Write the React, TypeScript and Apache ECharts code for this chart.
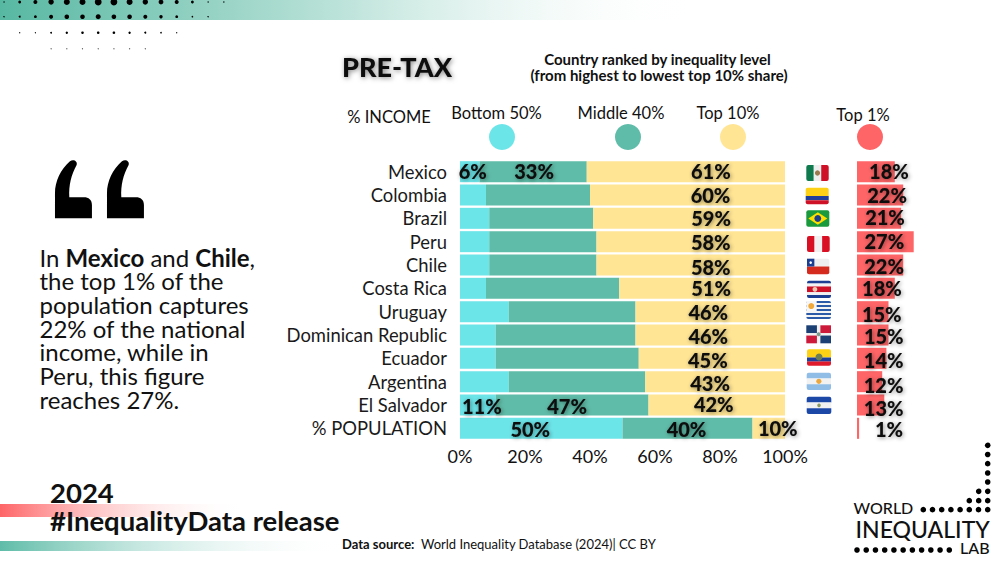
import React, { useEffect, useRef } from "react";
import * as echarts from "echarts";

const categories = ["Mexico", "Colombia", "Brazil", "Peru", "Chile", "Costa Rica", "Uruguay", "Dominican Republic", "Ecuador", "Argentina", "El Salvador", "% POPULATION"];
const bottom50 = [6, 8, 9, 9, 9, 8, 15, 11, 11, 15, 11, 50];
const middle40 = [33, 32, 32, 33, 33, 41, 39, 43, 44, 42, 47, 40];
const top10 = [61, 60, 59, 58, 58, 51, 46, 46, 45, 43, 42, 10];
const top1 = [18, 22, 21, 27, 22, 18, 15, 15, 14, 12, 13, 1];
const xTicks = [0, 20, 40, 60, 80, 100];

// label nudges (px), separate from the values
const top10Nudge = [[25, -1], [23, 0], [22, 0], [20, 0], [20, 2], [9, 0], [-2, 0], [-2, 1], [-4, 2], [-5, 1], [-3, -1], [9, 0]];
const top1Nudge = [[13, -1], [7, 0], [6, -1], [-1, -1], [4, 1], [6, 0], [9, 2], [11, 1], [12, 2], [14, 3], [13, 3], [31, 1]];
const bottomNudge: Record<number, number[]> = { 0: [3, -1], 10: [4, 1], 11: [-11, 1] };
const middleNudge: Record<number, number[]> = { 0: [1, -1], 10: [-5, 1], 11: [-1, 1] };

const CYAN = "#6ce5e9";
const GREEN = "#5fbca8";
const YELLOW = "#ffe594";
const RED = "#fe6567";
const INK = "#111111";
const FONT = "Lato";

echarts.graphic.registerShape(
  "quoteMark",
  echarts.graphic.extendPath(
    "M75 205 L186 205 L186 165 C186 150 176 142 162 142 L118 142 C116 105 124 75 140 45 C144 34 130 26 120 34 C92 58 75 95 75 130 Z",
    {}
  )
);

type Flag = { x0: number; x1: number; y0: number; y1: number; dir: "h" | "v"; stripes: [string, number][]; extra?: any[] };

const flags: Flag[] = [
  { x0: 806.3, x1: 828.7, y0: 165, y1: 181, dir: "v", stripes: [["#0e7a4e", 1], ["#eeeeee", 1], ["#ce1126", 1]], extra: [{ k: "c", x: 0.5, y: 0.5, r: 2.6, c: "#9a7b4f" }] },
  { x0: 805.7, x1: 828.7, y0: 187.7, y1: 204.3, dir: "h", stripes: [["#fcd116", 2], ["#1f3f9b", 1], ["#ce1126", 1]] },
  { x0: 806.3, x1: 829.3, y0: 210.3, y1: 226.7, dir: "h", stripes: [["#1a9a3c", 1]], extra: [{ k: "d", c: "#fedf00" }, { k: "c", x: 0.5, y: 0.5, r: 3.4, c: "#1f3f8b" }] },
  { x0: 807, x1: 829.7, y0: 236, y1: 252, dir: "v", stripes: [["#d91023", 1], ["#f0f0f0", 1], ["#d91023", 1]] },
  { x0: 807, x1: 829.3, y0: 258.7, y1: 274.3, dir: "h", stripes: [["#eeeeee", 1], ["#d52b1e", 1]], extra: [{ k: "r", x: 0, y: 0, w: 0.33, h: 0.5, c: "#1c3f94" }, { k: "c", x: 0.165, y: 0.25, r: 1.3, c: "#ffffff" }] },
  { x0: 807, x1: 831, y0: 280.7, y1: 298, dir: "h", stripes: [["#1c3f94", 1], ["#f2f2f2", 1], ["#ce1126", 2], ["#f2f2f2", 1], ["#1c3f94", 1]], extra: [{ k: "c", x: 0.33, y: 0.5, r: 2.4, c: "#e9c9b0" }] },
  { x0: 806.3, x1: 831, y0: 301, y1: 319, dir: "h", stripes: [["#2a5aa8", 1], ["#f4f4f4", 1], ["#2a5aa8", 1], ["#f4f4f4", 1], ["#2a5aa8", 1], ["#f4f4f4", 1], ["#2a5aa8", 1], ["#f4f4f4", 1], ["#2a5aa8", 1]], extra: [{ k: "r", x: 0, y: 0, w: 0.42, h: 0.56, c: "#f6f6f6" }, { k: "c", x: 0.2, y: 0.28, r: 3, c: "#f0a93a" }] },
  { x0: 806.3, x1: 831, y0: 325.3, y1: 343.3, dir: "h", stripes: [["#f2f2f2", 1]], extra: [{ k: "r", x: 0, y: 0, w: 0.43, h: 0.43, c: "#1c3f74" }, { k: "r", x: 0.57, y: 0, w: 0.43, h: 0.43, c: "#ce1a3a" }, { k: "r", x: 0, y: 0.57, w: 0.43, h: 0.43, c: "#ce1a3a" }, { k: "r", x: 0.57, y: 0.57, w: 0.43, h: 0.43, c: "#1c3f74" }, { k: "c", x: 0.5, y: 0.5, r: 2, c: "#7a9a8a" }] },
  { x0: 807, x1: 831, y0: 349.3, y1: 365.7, dir: "h", stripes: [["#fcd116", 2], ["#1f3f9b", 1], ["#e01a2b", 1]], extra: [{ k: "c", x: 0.5, y: 0.47, r: 3.5, c: "#6f7d55" }] },
  { x0: 806.7, x1: 831, y0: 372.7, y1: 390, dir: "h", stripes: [["#8fbde6", 1], ["#f2f2f2", 1], ["#8fbde6", 1]], extra: [{ k: "c", x: 0.5, y: 0.5, r: 2.6, c: "#eaa83f" }] },
  { x0: 806.7, x1: 831.3, y0: 396.7, y1: 414, dir: "h", stripes: [["#1c49a8", 1], ["#f2f2f2", 1], ["#1c49a8", 1]], extra: [{ k: "c", x: 0.5, y: 0.5, r: 1.8, c: "#8a9a60" }] },
];

function flagElements(f: Flag): any[] {
  const W = f.x1 - f.x0;
  const H = f.y1 - f.y0;
  const total = f.stripes.reduce((a, s) => a + s[1], 0);
  const out: any[] = [];
  let pos = 0;
  f.stripes.forEach(([c, n], i) => {
    const frac = n / total;
    const isEnd = i === 0 || i === f.stripes.length - 1;
    const single = f.stripes.length === 1;
    const r = single ? 2 : f.dir === "h" ? (i === 0 ? [2, 2, 0, 0] : i === f.stripes.length - 1 ? [0, 0, 2, 2] : 0) : i === 0 ? [2, 0, 0, 2] : i === f.stripes.length - 1 ? [0, 2, 2, 0] : 0;
    out.push({
      type: "rect",
      shape: f.dir === "h"
        ? { x: f.x0, y: f.y0 + pos * H, width: W, height: frac * H, r: isEnd || single ? r : 0 }
        : { x: f.x0 + pos * W, y: f.y0, width: frac * W, height: H, r: isEnd || single ? r : 0 },
      style: { fill: c },
    });
    pos += frac;
  });
  (f.extra || []).forEach((e) => {
    if (e.k === "c") out.push({ type: "circle", shape: { cx: f.x0 + e.x * W, cy: f.y0 + e.y * H, r: e.r }, style: { fill: e.c } });
    if (e.k === "r") out.push({ type: "rect", shape: { x: f.x0 + e.x * W, y: f.y0 + e.y * H, width: e.w * W, height: e.h * H }, style: { fill: e.c } });
    if (e.k === "d") out.push({ type: "polygon", shape: { points: [[f.x0 + 2, f.y0 + H / 2], [f.x0 + W / 2, f.y0 + 2], [f.x1 - 2, f.y0 + H / 2], [f.x0 + W / 2, f.y1 - 2]] }, style: { fill: e.c } });
  });
  return out;
}

function txt(x: number, y: number, text: string, size: number, weight: any = 400, align = "left", extra: any = {}) {
  return {
    type: "text",
    x,
    y,
    style: { text, font: `${weight} ${size}px ${FONT}`, fontFamily: FONT, fontSize: size, fontWeight: weight, fill: INK, textAlign: align, textVerticalAlign: "middle", textBaseline: "middle", ...extra },
  };
}

function dot(cx: number, cy: number, r: number, fill = "#000000") {
  return { type: "circle", shape: { cx, cy, r }, style: { fill } };
}

const headerRows: { y: number; start: number; r: number[]; fill: string }[] = [
  { y: 2, start: 0, r: [0.7, 1.4, 2, 2.7, 3, 3, 3.4, 3.4, 3, 2.7, 2.4, 2, 1.4, 0.7, 0.7], fill: "#000" },
  { y: 16.7, start: 0, r: [0.7, 1, 1.4, 2, 2.3, 2.3, 2.5, 2.3, 2.3, 2, 1.7, 1.4, 0.8, 0.7], fill: "#000" },
  { y: 32.7, start: 1, r: [0.6, 0.6, 0.9, 1.2, 1.3, 1.3, 1.3, 1.2, 1, 0.8, 0.6], fill: "#000" },
  { y: 48.7, start: 3, r: [0.6, 0.6, 0.6, 0.6, 0.6, 0.6, 0.6], fill: "#555" },
];

const leftLines = [
  "In {b|Mexico} and {b|Chile},",
  "the top 1% of the",
  "population captures",
  "22% of the national",
  "income, while in",
  "Peru, this figure",
  "reaches 27%.",
];

function barLabel(show: boolean, nudge: number[] | undefined) {
  return {
    show,
    position: "inside",
    offset: nudge || [0, 0],
    formatter: "{c}%",
    fontFamily: FONT,
    fontWeight: 900,
    fontSize: 20,
    color: "#0a0a0a",
    textShadowColor: "rgba(0,0,0,0.45)",
    textShadowBlur: 4,
    textShadowOffsetX: 1,
    textShadowOffsetY: 1,
  };
}

function buildGraphic() {
  const els: any[] = [];
  const grad = (stops: [number, string][]) =>
    new echarts.graphic.LinearGradient(0, 0, 1, 0, stops.map(([offset, color]) => ({ offset, color })));

  els.push({ type: "rect", shape: { x: 0, y: 0, width: 700, height: 20 }, style: { fill: grad([[0, "#57b8a2"], [0.5, "#bfe4db"], [1, "rgba(255,255,255,0)"]]) } });
  headerRows.forEach((row) => row.r.forEach((r, i) => els.push(dot(4 + (row.start + i) * 15.7, row.y, r, row.fill))));

  els.push({ type: "rect", shape: { x: 0, y: 504, width: 245, height: 13 }, style: { fill: grad([[0, "#fe6567"], [1, "rgba(255,255,255,0)"]]) } });
  els.push({ type: "rect", shape: { x: 0, y: 541, width: 345, height: 10 }, style: { fill: grad([[0, "#5fbca8"], [1, "rgba(255,255,255,0)"]]) } });

  els.push(txt(397, 66, "PRE-TAX", 27, 900, "center", { textShadowColor: "rgba(0,0,0,0.5)", textShadowBlur: 5, textShadowOffsetX: 1, textShadowOffsetY: 1 }));
  els.push(txt(657.5, 58.5, "Country ranked by inequality level", 15, 700, "center"));
  els.push(txt(659, 75, "(from highest to lowest top 10% share)", 15, 700, "center"));

  els.push(txt(389, 116.5, "% INCOME", 16.5, 400, "center"));
  els.push(txt(496.5, 112.5, "Bottom 50%", 16.5, 400, "center"));
  els.push(txt(621, 112.5, "Middle 40%", 16.5, 400, "center"));
  els.push(txt(728, 112.5, "Top 10%", 16.5, 400, "center"));
  els.push(txt(863, 115, "Top 1%", 16.5, 400, "center"));
  els.push(dot(502, 137, 13, CYAN), dot(628, 137, 13, GREEN), dot(733, 137, 13, YELLOW), dot(870, 137, 13, RED));

  [30 + 0, 30 + 52].forEach((ox) => {
    els.push({ type: "quoteMark", x: ox, y: 150, scaleX: 1 / 3, scaleY: 1 / 3, style: { fill: "#000000" } });
  });

  leftLines.forEach((line, i) => {
    els.push({
      type: "text",
      x: 39.5,
      y: 257 + i * 23.7,
      style: {
        text: line,
        fontFamily: FONT,
        fontSize: 24,
        fontWeight: 400,
        fill: INK,
        textAlign: "left",
        textVerticalAlign: "middle",
        rich: { b: { fontFamily: FONT, fontSize: 24, fontWeight: 700, fill: INK } },
      },
    });
  });

  els.push(txt(50, 492.5, "2024", 27.5, 700));
  els.push(txt(50, 520.5, "#InequalityData release", 27.5, 700));

  els.push({
    type: "text",
    x: 342,
    y: 544,
    style: {
      text: "{b|Data source:}  World Inequality Database (2024)| CC BY",
      fontFamily: FONT,
      fontSize: 13,
      fill: INK,
      textAlign: "left",
      textVerticalAlign: "middle",
      rich: { b: { fontFamily: FONT, fontSize: 13, fontWeight: 700, fill: INK } },
    },
  });

  flags.forEach((f) => els.push(...flagElements(f)));

  // logo
  [445.3, 454.5, 463.7, 473, 482].forEach((y) => els.push(dot(987.7, y, 2.8)));
  [978.7, 987.7].forEach((x) => els.push(dot(x, 491.3, 2.8)));
  [969.3, 978.7, 987.7].forEach((x) => els.push(dot(x, 500.7, 2.8)));
  for (let i = 0; i < 8; i++) els.push(dot(923.3 + i * 9.2, 509.7, 2.8));
  for (let i = 0; i < 11; i++) els.push(dot(857 + i * 9.23, 550, 2.8));
  els.push(txt(853.5, 507.5, "WORLD", 16, 500));
  els.push(txt(855.5, 528.5, "INEQUALITY", 23, 500));
  els.push(txt(960, 547.5, "LAB", 16, 500));

  return els;
}

export default function App() {
  const ref = useRef<HTMLDivElement>(null);
  useEffect(() => {
    if (!ref.current) return;
    const chart = echarts.init(ref.current, undefined, { renderer: "svg" });
    chart.setOption({
      animation: false,
      backgroundColor: "#ffffff",
      textStyle: { fontFamily: FONT },
      grid: [
        { left: 460, top: 160, width: 325, height: 280 },
        { left: 857, top: 160, width: 63, height: 280 },
      ],
      xAxis: [
        {
          gridIndex: 0,
          type: "value",
          min: 0,
          max: 100,
          interval: 20,
          axisLine: { show: false },
          axisTick: { show: false },
          splitLine: { show: false },
          axisLabel: {
            margin: 7,
            fontFamily: FONT,
            fontSize: 18,
            color: INK,
            formatter: (v: number) => (xTicks.includes(v) ? `${v}%` : ""),
          },
        },
        { gridIndex: 1, type: "value", min: 0, max: 30, show: false },
      ],
      yAxis: [
        {
          gridIndex: 0,
          type: "category",
          inverse: true,
          data: categories,
          axisLine: { show: false },
          axisTick: { show: false },
          axisLabel: { interval: 0, margin: 13, padding: [0, 0, 3, 0], fontFamily: FONT, fontSize: 18.4, color: "#1a1a1a" },
        },
        { gridIndex: 1, type: "category", inverse: true, data: categories, show: false },
      ],
      series: [
        {
          name: "Bottom 50%",
          type: "bar",
          stack: "income",
          barWidth: 21,
          itemStyle: { color: CYAN },
          data: bottom50.map((v, i) => ({ value: v, label: barLabel(i in bottomNudge, bottomNudge[i]) })),
        },
        {
          name: "Middle 40%",
          type: "bar",
          stack: "income",
          barWidth: 21,
          itemStyle: { color: GREEN },
          data: middle40.map((v, i) => ({ value: v, label: barLabel(i in middleNudge, middleNudge[i]) })),
        },
        {
          name: "Top 10%",
          type: "bar",
          stack: "income",
          barWidth: 21,
          itemStyle: { color: YELLOW },
          data: top10.map((v, i) => ({ value: v, label: barLabel(true, top10Nudge[i]) })),
        },
        {
          name: "Top 1%",
          type: "bar",
          xAxisIndex: 1,
          yAxisIndex: 1,
          barWidth: 21,
          itemStyle: { color: RED },
          data: top1.map((v, i) => ({ value: v, label: barLabel(true, top1Nudge[i]) })),
        },
      ],
      graphic: { elements: buildGraphic() },
    });
    return () => chart.dispose();
  }, []);
  return <div ref={ref} style={{ position: "fixed", left: 0, top: 0, width: 1000, height: 563 }} />;
}
